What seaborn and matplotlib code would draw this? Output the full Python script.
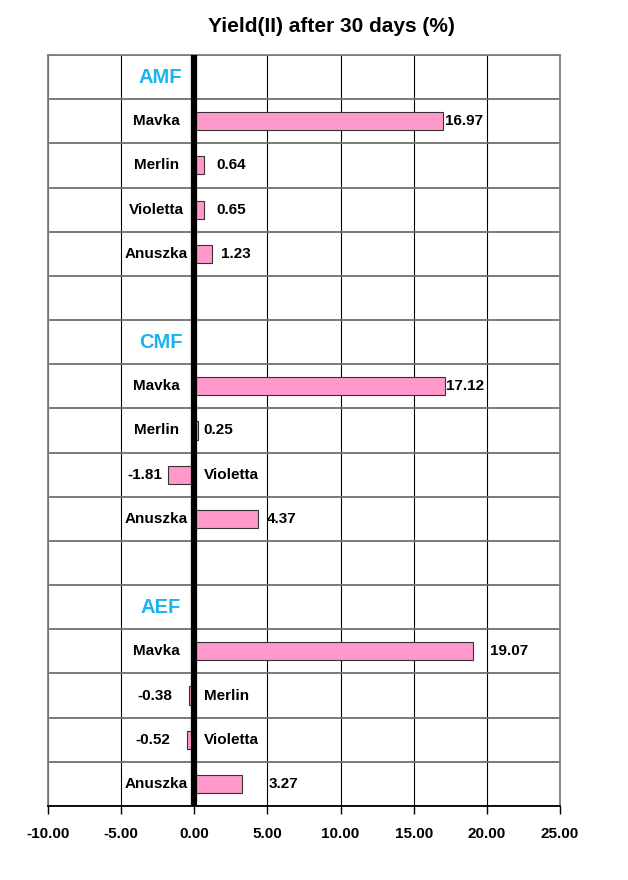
import numpy as np
import pandas as pd
import seaborn as sns
import matplotlib.pyplot as plt

groups = ['AMF', 'CMF', 'AEF']
cultivars = ['Mavka', 'Merlin', 'Violetta', 'Anuszka']
yield_amf = [16.97, 0.64, 0.65, 1.23]
yield_cmf = [17.12, 0.25, -1.81, 4.37]
yield_aef = [19.07, -0.38, -0.52, 3.27]
x_ticks = [-10, -5, 0, 5, 10, 15, 20, 25]

# horizontal nudge of each value label (points)
label_offsets = [2, 9, 9, 6, 1, 4, -4, 6, 12, -12, -12, 19]

sns.set_style('white')
plt.rcParams['font.family'] = ['Liberation Sans', 'DejaVu Sans']
plt.rcParams['axes.unicode_minus'] = False
plt.rcParams['text.color'] = 'black'
plt.rcParams['xtick.color'] = 'black'
plt.rcParams['xtick.labelcolor'] = 'black'

rows = []
for g, vals in enumerate([yield_amf, yield_cmf, yield_aef]):
    for i, (name, v) in enumerate(zip(cultivars, vals)):
        rows.append({'group': groups[g], 'cultivar': name, 'value': v, 'row': 6 * g + 1 + i})
df = pd.DataFrame(rows)

fig, ax = plt.subplots(figsize=(6.28, 8.80), dpi=100)
fig.subplots_adjust(left=0.0764, right=0.8917, top=0.9375, bottom=0.0841)

sns.barplot(data=df, x='value', y='row', orient='y', native_scale=True, width=0.41,
            color='#ff99cc', saturation=1, edgecolor='#333333', linewidth=0.8,
            errorbar=None, ax=ax)

ax.set_xlim(-10, 25)
ax.set_ylim(16.5, -0.5)
ax.set_xticks(x_ticks)
ax.set_xticklabels([f'{t:.2f}' for t in x_ticks], fontsize=11, fontweight='bold')
ax.set_yticks([])
ax.set_yticks(np.arange(-0.5, 17, 1), minor=True)
ax.tick_params(axis='y', which='both', length=0, labelleft=False)
ax.tick_params(axis='x', direction='out', length=6, width=1, color='black', pad=9, bottom=True)
ax.set_xlabel('')
ax.set_ylabel('')

ax.set_axisbelow(True)
ax.grid(axis='x', which='major', color='black', linewidth=0.8)
ax.grid(axis='y', which='minor', color='#6f6f6f', linewidth=1.3)
ax.axvline(0, color='black', linewidth=4.5, zorder=4)

for side in ['left', 'right', 'top']:
    ax.spines[side].set_color('#7f7f7f')
    ax.spines[side].set_linewidth(1.3)
ax.spines['bottom'].set_color('black')
ax.spines['bottom'].set_linewidth(1.3)

for g, name in enumerate(groups):
    ax.text(-2.3, 6 * g, name, ha='center', va='center', fontsize=14.5,
            fontweight='bold', color='#19b4f0')

for k, r in df.iterrows():
    if r['value'] >= 0:
        ax.text(-2.6, r['row'], r['cultivar'], ha='center', va='center',
                fontsize=11, fontweight='bold')
        ax.annotate(f"{r['value']:.2f}", (r['value'], r['row']), xytext=(label_offsets[k], 0),
                    textcoords='offset points', ha='left', va='center',
                    fontsize=11, fontweight='bold')
    else:
        ax.text(0.65, r['row'], r['cultivar'], ha='left', va='center',
                fontsize=11, fontweight='bold')
        ax.annotate(f"{r['value']:.2f}", (r['value'], r['row']), xytext=(label_offsets[k], 0),
                    textcoords='offset points', ha='right', va='center',
                    fontsize=11, fontweight='bold')

fig.text(331 / 628, 1 - 27 / 880, 'Yield(II) after 30 days (%)', ha='center', va='center',
         fontsize=15, fontweight='bold')

fig.savefig('out.png', dpi=100)
